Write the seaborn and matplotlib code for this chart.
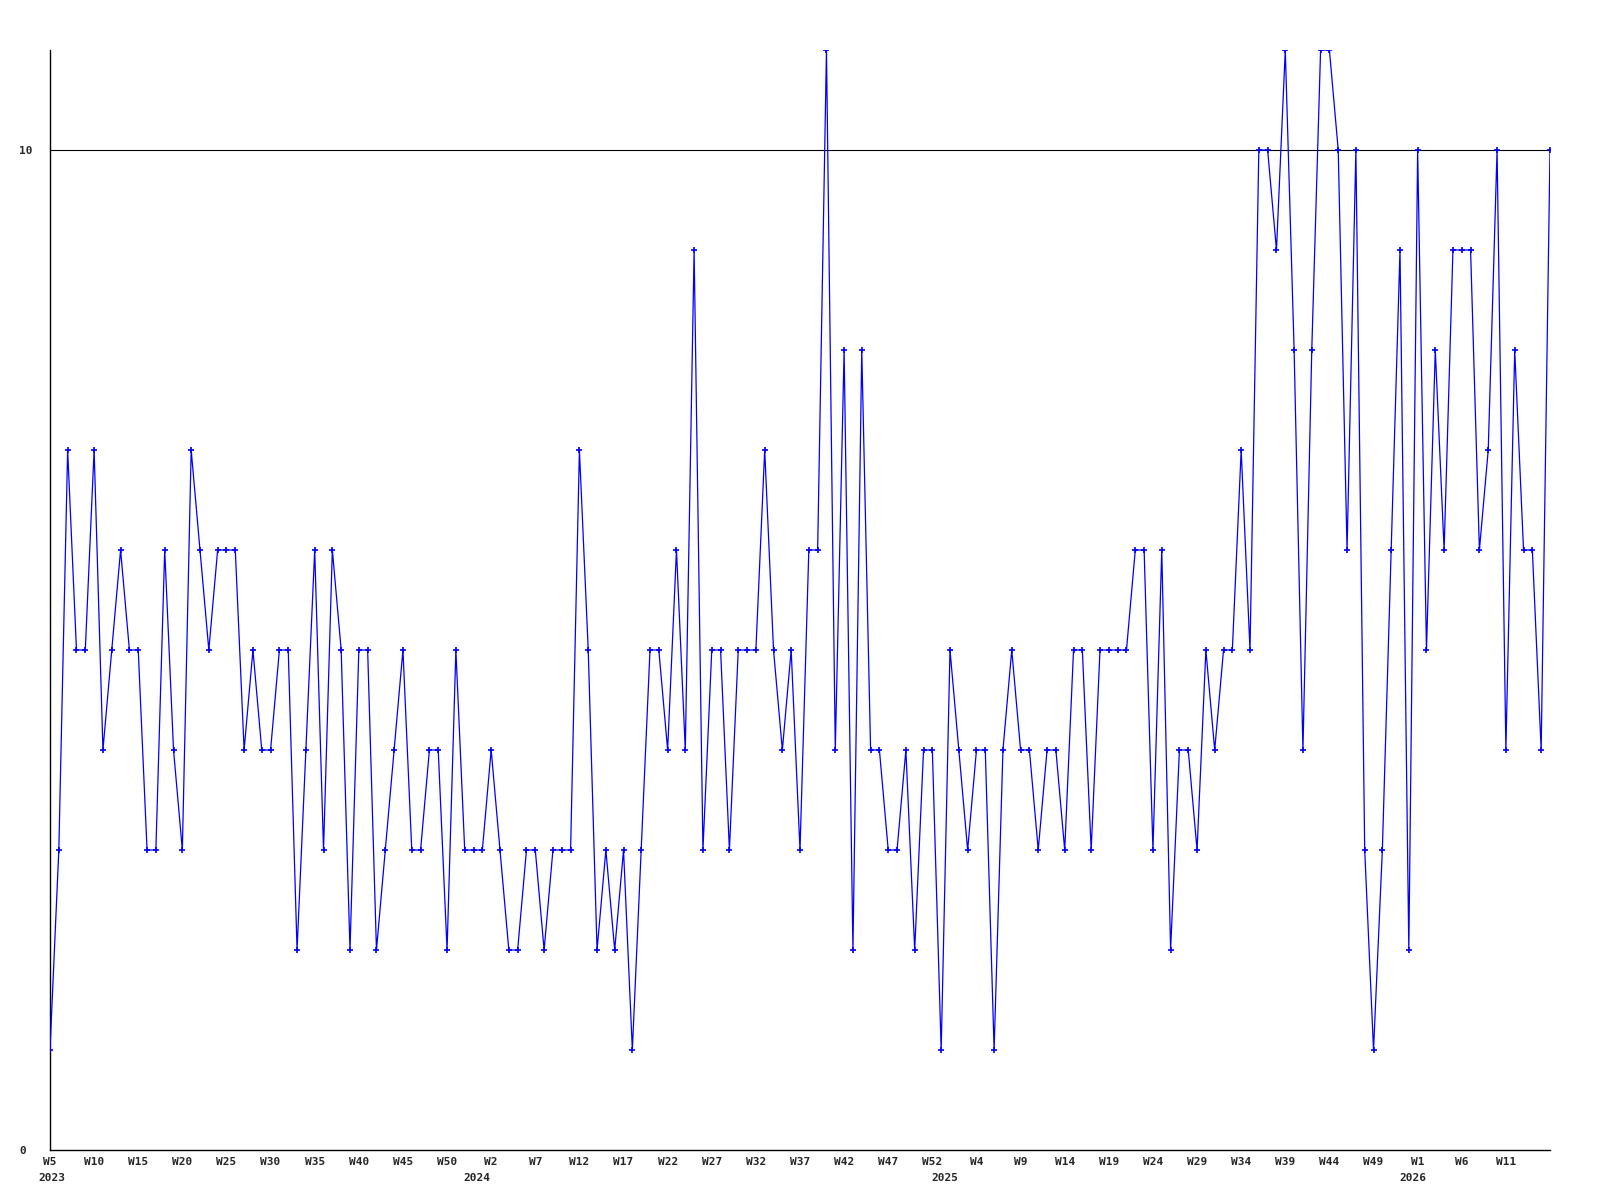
import matplotlib
matplotlib.use("Agg")
import matplotlib.pyplot as plt
import matplotlib.transforms as mtransforms
import seaborn as sns
import numpy as np

# weekly values, 2023 W5 .. 2026 W16
values = [1, 3, 7, 5, 5, 7, 4, 5, 6, 5, 5, 3, 3, 6, 4,
          3, 7, 6, 5, 6, 6, 6, 4, 5, 4, 4, 5, 5, 2,
          4, 6, 3, 6, 5, 2, 5, 5, 2, 3, 4, 5, 3, 3, 4,
          4, 2, 5, 3, 3, 3, 4, 3, 2, 2, 3, 3, 2, 3,
          3, 3, 7, 5, 2, 3, 2, 3, 1, 3, 5, 5, 4, 6,
          4, 9, 3, 5, 5, 3, 5, 5, 5, 7, 5, 4, 5, 3, 6,
          6, 11, 4, 8, 2, 8, 4, 4, 3, 3, 4, 2, 4, 4,
          1, 5, 4, 3, 4, 4, 1, 4, 5, 4, 4, 3, 4, 4, 3,
          5, 5, 3, 5, 5, 5, 5, 6, 6, 3, 6, 2, 4, 4,
          3, 5, 4, 5, 5, 7, 5, 10, 10, 9, 11, 8, 4, 8,
          11, 11, 10, 6, 10, 3, 1, 3, 6, 9, 2, 10, 5, 8, 6,
          9, 9, 9, 6, 7, 10, 4, 8, 6, 6, 4, 10]
weeks = np.arange(len(values))

week_labels = ["W5", "W10", "W15", "W20", "W25", "W30", "W35", "W40", "W45", "W50",
               "W2", "W7", "W12", "W17", "W22", "W27", "W32", "W37", "W42", "W47", "W52",
               "W4", "W9", "W14", "W19", "W24", "W29", "W34", "W39", "W44", "W49",
               "W1", "W6", "W11"]
year_labels = ["2023", "2024", "2025", "2026"]
year_pos = [0, 49, 102, 155]

sns.set_style("white")
plt.rcParams['font.family'] = ['DejaVu Sans Mono']

fig = plt.figure(figsize=(16, 12), dpi=100)
ax = fig.add_axes([50 / 1600, 50 / 1200, 1500 / 1600, 1100 / 1200])

ax.axhline(10, color="black", linewidth=0.8, zorder=1)
sns.lineplot(x=weeks, y=values, ax=ax, color="#0000ff", linewidth=0.9,
             marker="+", markersize=4.5, markeredgewidth=1.2,
             markeredgecolor="#0000ff", zorder=3)

ax.set_xlim(0, len(values) - 1)
ax.set_ylim(0, 11)

ax.set_yticks([0, 10])
ax.set_yticklabels(["0", "10"], fontsize=8, fontweight="bold")
for lab in ax.get_yticklabels():
    lab.set_horizontalalignment("left")
ax.set_xticks(weeks[::5][:len(week_labels)])
ax.set_xticklabels(week_labels, fontsize=8, fontweight="bold")
ax.tick_params(axis="both", length=0)
ax.tick_params(axis="y", pad=22)
ax.tick_params(axis="x", pad=5)

trans = mtransforms.blended_transform_factory(ax.transData, ax.transAxes)
for i, (pos, lab) in enumerate(zip(year_pos, year_labels)):
    if i == 0:
        off = mtransforms.ScaledTranslation(-12 / 100, 0, fig.dpi_scale_trans)
        ha = "left"
    else:
        off = mtransforms.ScaledTranslation(-5 / 100, 0, fig.dpi_scale_trans)
        ha = "center"
    ax.text(pos, -0.021, lab, transform=trans + off, ha=ha, va="top",
            fontsize=8, fontweight="bold")

for side in ["top", "right"]:
    ax.spines[side].set_visible(False)
for side in ["left", "bottom"]:
    ax.spines[side].set_color("black")
    ax.spines[side].set_linewidth(1.0)

ax.set_xlabel("")
ax.set_ylabel("")

fig.savefig("out.png", dpi=100, facecolor="white")
